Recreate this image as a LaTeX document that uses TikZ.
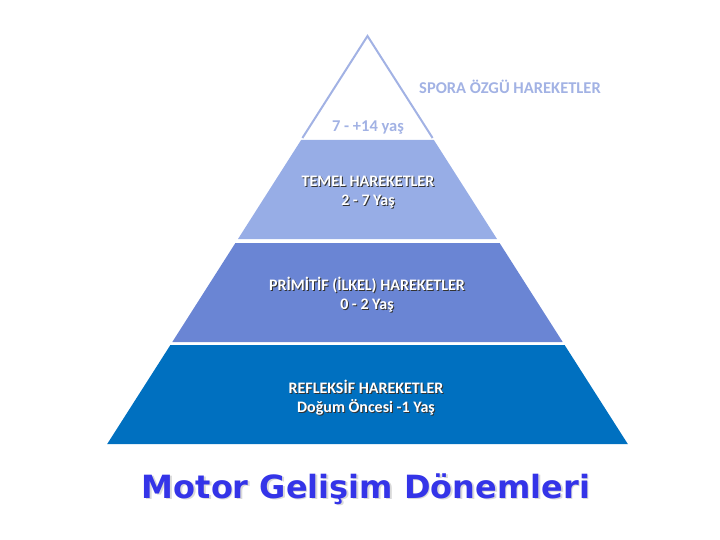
\documentclass[tikz,border=0pt]{standalone}
\usepackage{fontspec}
\setmainfont{Carlito}
\newfontfamily\titlefont{DejaVu Sans}
\usepackage{tikz}
\usetikzlibrary{positioning}
\usepackage{xcolor}
\definecolor{pyrtop}{HTML}{A2B2E4}
\definecolor{pyrone}{HTML}{97ADE6}
\definecolor{pyrtwo}{HTML}{6A85D4}
\definecolor{pyrthree}{HTML}{0070C0}
\definecolor{titleblue}{HTML}{3434E8}
\newcommand{\bandlabel}[3]{%
    \node[lbl, text=black!80, xshift=1pt, yshift=-1pt] (#1sh) at (#2) {#3};
    \node[lbl] (#1) at (#2) {#3};}

\begin{document}
\begin{tikzpicture}[x=1pt, y=-1pt,
    lbl/.style={align=center, text=white, font=\bfseries\fontsize{16}{19}\selectfont},
    toplbl/.style={text=pyrtop, font=\bfseries\fontsize{16.5}{19}\selectfont}]
    \useasboundingbox (0,0) rectangle (720,540);

    % Top triangle outline
    \draw[pyrtop, line width=2pt, line join=miter] (302.4,138) -- (367.5,36) -- (432.6,138);

    % Bands (top to bottom)
    \fill[pyrone]   (301.1,140) -- (433.9,140) -- (497.0,239) -- (238.0,239) -- cycle;
    \fill[pyrtwo]   (235.4,243) -- (499.6,243) -- (562.7,342) -- (172.3,342) -- cycle;
    \fill[pyrthree] (170.4,345) -- (564.6,345) -- (627.8,444) -- (107.2,444) -- cycle;

    % Labels
    \node[toplbl] (spora) at (510,87) {SPORA ÖZGÜ HAREKETLER};
    \node[toplbl] (sporayas) at (368,128) {7 - +14 yaş};
    \bandlabel{temel}{368,192.5}{TEMEL HAREKETLER\\2 - 7 Yaş}
    \bandlabel{primitif}{367,295}{PRİMİTİF (İLKEL) HAREKETLER\\0 - 2 Yaş}
    \bandlabel{refleksif}{366,398}{REFLEKSİF HAREKETLER\\Doğum Öncesi -1 Yaş}

    % Title
    \node[text=black!15, font=\titlefont\bfseries\fontsize{32}{36}\selectfont,
          xshift=1.5pt, yshift=-1.5pt] (titlesh) at (366,489) {Motor Gelişim Dönemleri};
    \node[text=titleblue, font=\titlefont\bfseries\fontsize{32}{36}\selectfont]
          (title) at (366,489) {Motor Gelişim Dönemleri};
\end{tikzpicture}
\end{document}
